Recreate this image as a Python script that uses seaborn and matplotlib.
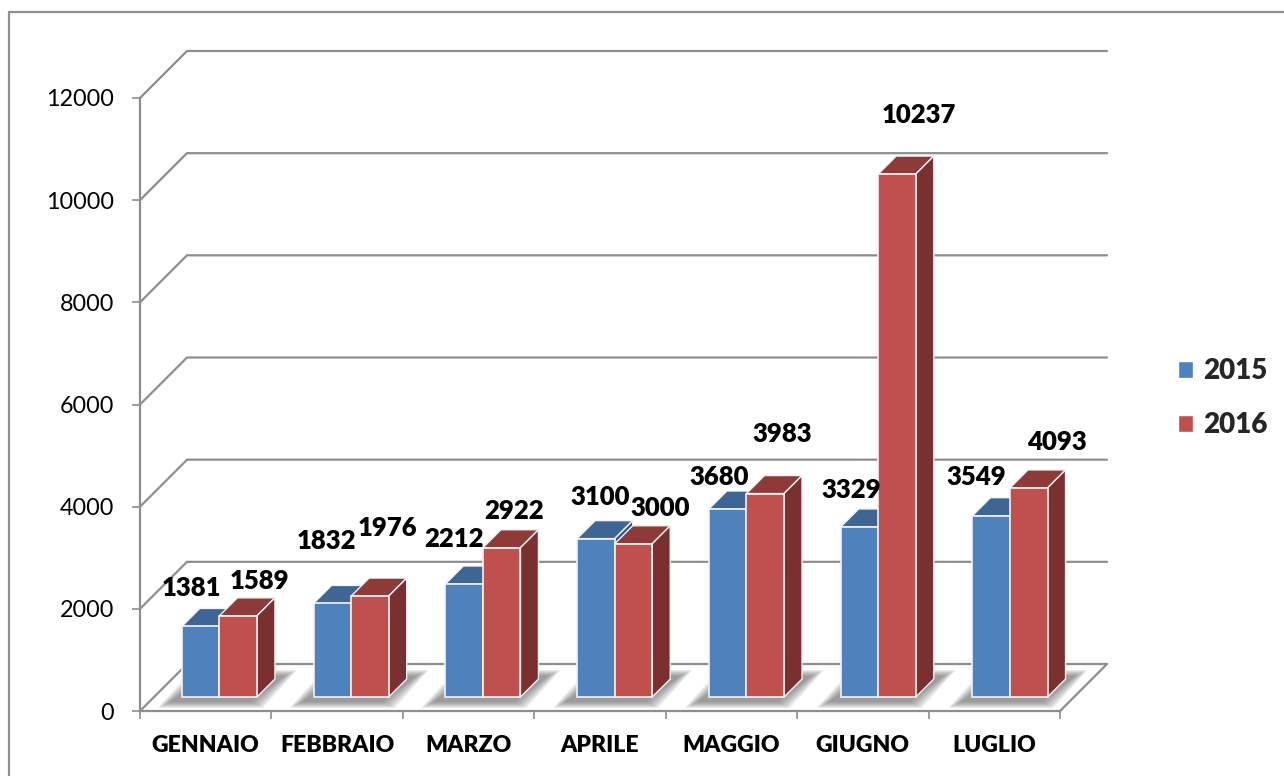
import matplotlib
matplotlib.use('Agg')
import matplotlib.pyplot as plt
from matplotlib.patches import Polygon
from matplotlib.lines import Line2D
from matplotlib.transforms import Affine2D
import pandas as pd
import seaborn as sns

# data
months = ['GENNAIO', 'FEBBRAIO', 'MARZO', 'APRILE', 'MAGGIO', 'GIUGNO', 'LUGLIO']
values_2015 = [1381, 1832, 2212, 3100, 3680, 3329, 3549]
values_2016 = [1589, 1976, 2922, 3000, 3983, 10237, 4093]
y_ticks = [0, 2000, 4000, 6000, 8000, 10000, 12000]

df = pd.DataFrame({
    'mese': months * 2,
    'anno': ['2015'] * 7 + ['2016'] * 7,
    'valore': values_2015 + values_2016,
})

sns.set_theme(style='white')
plt.rcParams['font.family'] = ['Lato', 'DejaVu Sans']

W, H = 1284, 776
BOLD = 800
fig = plt.figure(figsize=(W / 100, H / 100), dpi=100)
ax = fig.add_axes([140 / W, (H - 711) / H, 920 / W, 613 / H])
ax.patch.set_alpha(0)

# image pixels (y down) -> display
px = Affine2D().scale(1, -1).translate(0, H)

GREY = '#8e8e8e'
BLUE, RED = '#4f81bd', '#c0504d'
tops = {'2015': '#3f6594', '2016': '#8e3a38'}
sides = {'2015': '#34567f', '2016': '#7a302f'}

sns.barplot(data=df, x='mese', y='valore', hue='anno', order=months,
            palette={'2015': BLUE, '2016': RED}, saturation=1, width=0.57,
            gap=0, ax=ax)
ax.set_xlim(-0.5, 6.5)
ax.set_ylim(0, 12000)
ax.set_xlabel('')
ax.set_ylabel('')

# axes and ticks
ax.spines[['top', 'right']].set_visible(False)
ax.spines[['left', 'bottom']].set_color(GREY)
ax.spines[['left', 'bottom']].set_linewidth(1.6)
ax.set_yticks(y_ticks)
ax.set_xticks([i - 0.5 for i in range(8)], labels=[''] * 8)
ax.set_xticks(range(7), labels=months, minor=True)
ax.tick_params(axis='y', which='major', left=True, length=5.5, width=1.2, color=GREY,
               pad=13, labelsize=16.8, labelcolor='black')
ax.tick_params(axis='x', which='major', bottom=True, length=5.5, width=1.2, color=GREY)
ax.tick_params(axis='x', which='minor', bottom=False, length=0, pad=17, labelsize=16.6,
               labelcolor='black')
for t in ax.get_xticklabels(minor=True):
    t.set_fontweight(BOLD)

# outer frame
for xs, ys in [((9, 9), (12, H)), ((9, W), (12, 12))]:
    fig.add_artist(Line2D(xs, ys, color=GREY, lw=1.6, transform=px))

# back wall gridlines and floor
DX, DY = 47, 47
x_right = ax.transData.transform((6.5, 0))[0]
y_floor = H - ax.transData.transform((0, 0))[1]
for v in y_ticks:
    y_px = H - ax.transData.transform((0, v))[1]
    ax.add_line(Line2D([140, 140 + DX, x_right + DX], [y_px, y_px - DY, y_px - DY],
                       color=GREY, lw=1.6, transform=px, clip_on=False, zorder=1,
                       solid_joinstyle='miter'))
ax.add_line(Line2D([x_right, x_right + DX], [y_floor, y_floor - DY], color=GREY, lw=1.6,
                   transform=px, clip_on=False, zorder=1))

# bars are drawn on a plane set back from the axis plane, slightly wider too
ax_bars = ax.transData + Affine2D().translate(-182, 0).scale(1.0026, 1).translate(182 + 13.6, 14)
blue_bars, red_bars = ax.containers[0], ax.containers[1]
DEPTH = 18

# label offsets from the top centre of each bar, in pixels
offs_2015 = [(-9, 38), (-6, 62), (-10, 45), (4, 42), (-8, 32), (-8, 37), (-15, 39)]
offs_2016 = [(21, 35), (18, 68), (12, 37), (27, 36), (17, 60), (22, 59), (28, 46)]


def draw_shadow(x0, x1, y_base):
    # soft floor shadow made of stacked polygons
    for k in range(8):
        inset = k * 1.7
        pts = [(x0 - 24 + inset, y_base + 11 - inset * 0.5), (x1 + 6 - inset, y_base + 11 - inset * 0.5),
               (x1 + 40 - inset, y_base - 27 + inset * 0.5), (x0 + 10 + inset, y_base - 27 + inset * 0.5)]
        ax.add_patch(Polygon(pts, closed=True, fc='#606060', ec='none', alpha=0.11,
                             transform=px, clip_on=False, zorder=2))


def draw_bar(bar, year, z, off, value):
    bar.set_transform(ax_bars)
    bar.set_clip_on(False)
    bar.set_edgecolor('#f2f2f2')
    bar.set_linewidth(1.2)
    bar.set_zorder(z + 0.2)
    ext = bar.get_window_extent()
    x0, x1 = ext.x0, ext.x1
    y_top, y_base = H - ext.y1, H - ext.y0
    top = [(x0, y_top), (x1, y_top), (x1 + DEPTH, y_top - DEPTH), (x0 + DEPTH, y_top - DEPTH)]
    side = [(x1, y_top), (x1 + DEPTH, y_top - DEPTH), (x1 + DEPTH, y_base - DEPTH), (x1, y_base)]
    ax.add_patch(Polygon(top, closed=True, fc=tops[year], ec='#f2f2f2', lw=1.0,
                         transform=px, clip_on=False, zorder=z))
    ax.add_patch(Polygon(side, closed=True, fc=sides[year], ec='#f2f2f2', lw=1.0,
                         transform=px, clip_on=False, zorder=z + 0.1))
    ax.text((x0 + x1) / 2 + off[0], y_top - off[1], str(value), transform=px, ha='center',
            va='center', fontsize=18.5, fontweight=BOLD, color='black', zorder=50,
            clip_on=False)


for i in range(7):
    b, r = blue_bars[i], red_bars[i]
    b.set_transform(ax_bars)
    r.set_transform(ax_bars)
    e0, e1 = b.get_window_extent(), r.get_window_extent()
    draw_shadow(e0.x0, e1.x1, H - e0.y0)
    draw_bar(b, '2015', 10 + i * 2, offs_2015[i], values_2015[i])
    draw_bar(r, '2016', 11 + i * 2, offs_2016[i], values_2016[i])

# legend
sns.move_legend(ax, 'center left', bbox_to_anchor=(1.1007, 0.51), frameon=False, title=None,
                fontsize=20, labelspacing=1.0, handlelength=0.54, handleheight=0.54,
                handletextpad=0.38)
for t in ax.get_legend().get_texts():
    t.set_fontweight(BOLD)

fig.savefig('out.png', dpi=100)
